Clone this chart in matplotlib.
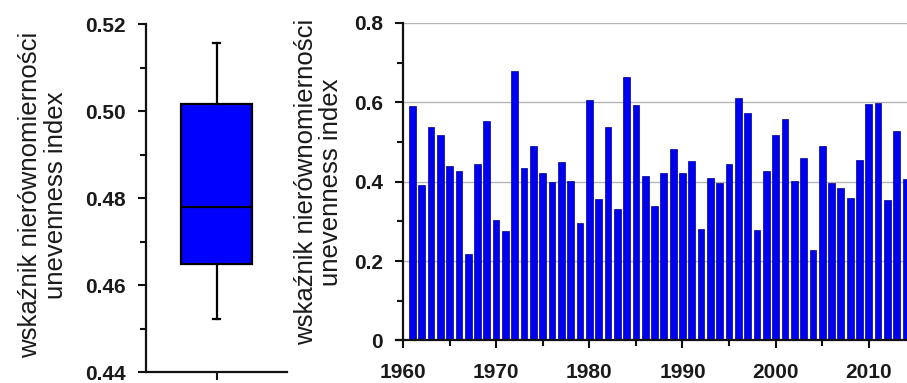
import numpy as np
import matplotlib
matplotlib.use('Agg')
import matplotlib.pyplot as plt
from matplotlib.ticker import MultipleLocator

plt.rcParams['font.family'] = ['Liberation Sans', 'DejaVu Sans']

# annual unevenness index, 1961-2014
years = list(range(1961, 2015))
index_values = [
    0.590, 0.392, 0.538, 0.517, 0.439, 0.427, 0.217, 0.444, 0.553, 0.304,
    0.275, 0.678, 0.434, 0.489, 0.421, 0.400, 0.450, 0.403, 0.295, 0.605,
    0.357, 0.538, 0.331, 0.664, 0.593, 0.415, 0.338, 0.423, 0.483, 0.423,
    0.453, 0.282, 0.410, 0.398, 0.445, 0.611, 0.572, 0.279, 0.427, 0.517,
    0.558, 0.403, 0.461, 0.228, 0.489, 0.397, 0.384, 0.358, 0.454, 0.595,
    0.599, 0.354, 0.529, 0.406,
]

# box plot summary
box_stats = {'whislo': 0.4523, 'q1': 0.4649, 'med': 0.4780, 'q3': 0.5017, 'whishi': 0.5157}

box_ticks = [0.44, 0.46, 0.48, 0.50, 0.52]
box_ticklabels = ['0.44', '0.46', '0.48', '0.50', '0.52']
bar_yticks = [0, 0.2, 0.4, 0.6, 0.8]
bar_yticklabels = ['0', '0.2', '0.4', '0.6', '0.8']
decades = [1960, 1970, 1980, 1990, 2000, 2010]

ylabel = 'wskaźnik nierównomierności\nunevenness index'
blue = '#0000f0'
tick_font = dict(fontsize=15, fontweight='bold', color='#1a1a1a')

fig = plt.figure(figsize=(9.07, 3.83), dpi=100)

# left panel: box plot
ax1 = fig.add_axes([0.161, 0.0287, 0.1555, 0.9086])
ax1.bxp([dict(box_stats, fliers=[])], positions=[1], widths=0.5, capwidths=0.05,
        showfliers=False, patch_artist=True,
        boxprops=dict(facecolor='#0000ff', edgecolor='black', linewidth=1.6),
        medianprops=dict(color='black', linewidth=1.6),
        whiskerprops=dict(color='black', linewidth=1.6),
        capprops=dict(color='black', linewidth=1.6))
ax1.set_xlim(0.5, 1.5)
ax1.set_ylim(0.44, 0.52)
ax1.set_xticks([1], [''])
ax1.set_yticks(box_ticks, box_ticklabels, **tick_font)
ax1.yaxis.set_minor_locator(MultipleLocator(0.01))

# right panel: annual bars
ax2 = fig.add_axes([0.4443, 0.111, 0.5557, 0.829])
ax2.bar(years, index_values, width=0.72, color=blue, edgecolor='#00008b', linewidth=0.5, zorder=2)
ax2.set_xlim(1960, 2014.1)
ax2.set_ylim(0, 0.8)
ax2.set_xticks(decades, [str(d) for d in decades], **tick_font)
ax2.xaxis.set_minor_locator(MultipleLocator(5))
ax2.set_yticks(bar_yticks, bar_yticklabels, **tick_font)
ax2.yaxis.set_minor_locator(MultipleLocator(0.1))
ax2.grid(axis='y', which='major', color='#b4b4b4', linewidth=1.0, zorder=0)
ax2.set_axisbelow(True)

for ax in (ax1, ax2):
    for side in ('top', 'right'):
        ax.spines[side].set_visible(False)
    for side in ('left', 'bottom'):
        ax.spines[side].set_linewidth(1.6)
        ax.spines[side].set_color('#111111')
    ax.tick_params(which='major', direction='out', length=6, width=1.5, color='#111111')
    ax.tick_params(which='minor', direction='out', length=4.5, width=1.5, color='#111111')
    ax.tick_params(axis='y', which='major', pad=8.5)

ax2.tick_params(axis='x', which='major', pad=10.5)
ax2.spines['bottom'].set_bounds(1959.2, 2014.1)

fig.text(0.0474, 0.491, ylabel, rotation=90, ha='center', va='center',
         multialignment='center', fontsize=18.5, linespacing=1.12, color='#1a1a1a')
fig.text(0.351, 0.525, ylabel, rotation=90, ha='center', va='center',
         multialignment='center', fontsize=18.5, linespacing=1.02, color='#1a1a1a')

fig.savefig('out.png', dpi=100)
